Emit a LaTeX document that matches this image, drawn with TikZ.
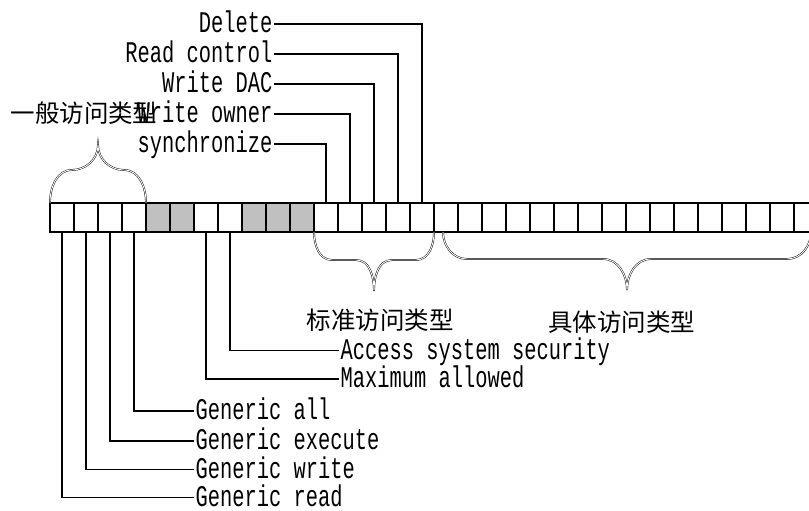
\documentclass[tikz,border=0pt]{standalone}
\usepackage{fontspec}
\newfontfamily\monofnt{Liberation Mono}
\newfontfamily\cjk{Noto Sans CJK SC}
\usepackage{tikz}
\definecolor{cellgray}{RGB}{192,192,192}
\newcommand{\nar}[1]{\scalebox{0.68}[1]{#1}}
\tikzset{
  cell/.style={draw, line width=1.4pt, minimum width=24pt, minimum height=29pt, inner sep=0pt, outer sep=0pt},
  lab/.style={font=\monofnt\fontsize{30}{30}\selectfont, inner sep=1.5pt, text height=17pt, text depth=0pt},
  typ/.style={font=\cjk\fontsize{24.5}{24.5}\selectfont, inner sep=0pt},
  link/.style={line width=1.5pt},
  brace/.style={draw, line width=0.45pt, double, double distance=0.9pt}
}

\begin{document}
\begin{tikzpicture}[x=1pt,y=-1pt]
   \useasboundingbox (0,0) rectangle (809,511);

   % 灰色的保留位
   \foreach \i in {4,5,8,9,10}
     \fill[cellgray] ({50+24*\i},203) rectangle ++(24,29);

   % 32个位
   \foreach \i in {0,...,31}
     \node[cell] (c\i) at ({62+24*\i},217.5) {};

   % 上方标注
   \node[lab, anchor=east] (del)  at (274,24)  {\nar{Delete}};
   \node[lab, anchor=east] (rctl) at (274,54)  {\nar{Read control}};
   \node[lab, anchor=east] (wdac) at (274,84)  {\nar{Write DAC}};
   \node[lab, anchor=east] (wown) at (274,114) {\nar{Write owner}};
   \node[lab, anchor=east] (sync) at (274,144) {\nar{synchronize}};

   % 下方标注
   \node[lab, anchor=west] (acc)  at (339,350.5) {\nar{Access system security}};
   \node[lab, anchor=west] (maxa) at (339,379)   {\nar{Maximum allowed}};
   \node[lab, anchor=west] (gall) at (194,411)   {\nar{Generic all}};
   \node[lab, anchor=west] (gexe) at (194,441)   {\nar{Generic execute}};
   \node[lab, anchor=west] (gwri) at (194,469.5) {\nar{Generic write}};
   \node[lab, anchor=west] (grea) at (194,497.5) {\nar{Generic read}};

   % 连线
   \draw[link] (c15.north) |- (del.east);
   \draw[link] (c14.north) |- (rctl.east);
   \draw[link] (c13.north) |- (wdac.east);
   \draw[link] (c12.north) |- (wown.east);
   \draw[link] (c11.north) |- (sync.east);
   \draw[link] (c7.south) |- (acc.west);
   \draw[link] (c6.south) |- (maxa.west);
   \draw[link] (c3.south) |- (gall.west);
   \draw[link] (c2.south) |- (gexe.west);
   \draw[link] (c1.south) |- (gwri.west);
   \draw[link] (c0.south) |- (grea.west);

   % 花括号
   \draw[brace] (c0.north west) to[out=90,in=180] (72,170)
     to[out=0,in=-90] (98,145) to[out=-90,in=180] (124,170)
     to[out=0,in=90] (c3.north east);
   \draw[brace] (c11.south west) to[out=-90,in=180] (332,260) -- (356,260)
     to[out=0,in=90] (374,291) to[out=90,in=180] (392,260) -- (416,260)
     to[out=0,in=-90] (c15.south east);
   \draw[brace] (443,232) to[out=-90,in=180] (467,259) -- (603,259)
     to[out=0,in=90] (627,290) to[out=90,in=180] (651,259) -- (787,259)
     to[out=0,in=-90] (811,232);

   % 类型名称
   \node[typ] (gen) at (84,113)    {一般访问类型};
   \node[typ] (std) at (380,320)   {标准访问类型};
   \node[typ] (spc) at (621.5,322) {具体访问类型};
\end{tikzpicture}
\end{document}
